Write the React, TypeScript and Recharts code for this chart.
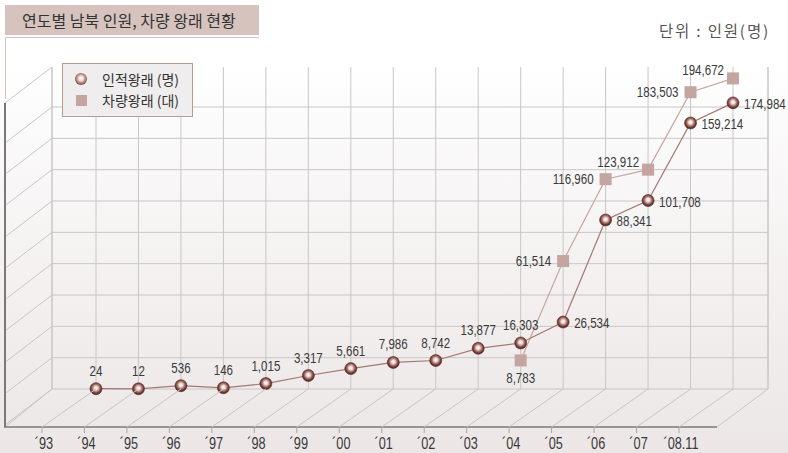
import { LineChart, Line, XAxis, YAxis, CartesianGrid, LabelList, Customized } from 'recharts'

const years = ['´93', '´94', '´95', '´96', '´97', '´98', '´99', '´00', '´01', '´02', '´03', '´04', '´05', '´06', '´07', '´08.11']
const people = [24, 12, 536, 146, 1015, 3317, 5661, 7986, 8742, 13877, 16303, 26534, 88341, 101708, 159214, 174984]
const vehicles = [null, null, null, null, null, null, null, null, null, null, 8783, 61514, 116960, 123912, 183503, 194672]

const data = years.map((year, i) => ({ year, people: people[i], vehicles: vehicles[i] }))

// chart frame (back wall of the pseudo 3d box)
const W = 788
const H = 453
const PLOT_LEFT = 52
const PLOT_RIGHT = 768
const PLOT_TOP = 67
const PLOT_BOTTOM = 389
const GRID_TOP = 107
const DEPTH_X = -54
const DEPTH_Y = 38
const WALL_FRONT_X = 5
const FLOOR_FRONT_RIGHT = 717

const GRID = '#c9c6c6'
const NUM_FONT = '"Liberation Sans", Arial, sans-serif'
const KR_FONT = '"Noto Sans CJK KR", "Noto Sans", sans-serif'

const gridYs = Array.from({ length: 10 }, (_, i) => PLOT_BOTTOM - (i * (PLOT_BOTTOM - GRID_TOP)) / 9)

// power scale, the original axis is compressed at the top
function powScale(exponent: number): any {
    let dom = [0, 1]
    let rng = [0, 1]
    const f = (v: number) => Math.sign(v) * Math.pow(Math.abs(v), exponent)
    const scale: any = (v: number) => {
        const t = (f(v) - f(dom[0])) / (f(dom[1]) - f(dom[0]))
        return rng[0] + t * (rng[1] - rng[0])
    }
    scale.domain = (d?: any[]) => {
        if (d === undefined) return dom.slice()
        dom = d.map(Number)
        return scale
    }
    scale.range = (r?: any[]) => {
        if (r === undefined) return rng.slice()
        rng = r.map(Number)
        return scale
    }
    scale.invert = (px: number) => {
        const t = (px - rng[0]) / (rng[1] - rng[0])
        const fv = f(dom[0]) + t * (f(dom[1]) - f(dom[0]))
        return Math.sign(fv) * Math.pow(Math.abs(fv), 1 / exponent)
    }
    scale.ticks = (n = 5) => {
        const step = (dom[1] - dom[0]) / n
        return Array.from({ length: n + 1 }, (_, i) => dom[0] + i * step)
    }
    scale.copy = () => powScale(exponent).domain(dom).range(rng)
    return scale
}

const yScale = powScale(0.77)

// condensed look: squeeze a regular sans horizontally
function NarrowText({ x, y, anchor, size, children }: any) {
    return (
        <text
            transform={`translate(${x},${y}) scale(0.77,1)`}
            textAnchor={anchor}
            dominantBaseline="central"
            fontFamily={NUM_FONT}
            fontSize={size}
            fill="#3a3a3a"
        >
            {children}
        </text>
    )
}

function Frame3D() {
    const wallYs = [PLOT_TOP, ...gridYs]
    return (
        <g>
            {wallYs.map((y) => (
                <line key={y} x1={PLOT_LEFT} y1={y} x2={WALL_FRONT_X} y2={y + DEPTH_Y - 2} stroke={GRID} />
            ))}
            <line x1={PLOT_LEFT} y1={PLOT_TOP} x2={PLOT_LEFT} y2={PLOT_BOTTOM} stroke={GRID} />
            <line x1={PLOT_RIGHT} y1={PLOT_TOP} x2={PLOT_RIGHT} y2={PLOT_BOTTOM} stroke={GRID} />
            <line x1={PLOT_LEFT} y1={PLOT_BOTTOM} x2={WALL_FRONT_X} y2={PLOT_BOTTOM + DEPTH_Y} stroke={GRID} />
            <line x1={PLOT_RIGHT} y1={PLOT_BOTTOM} x2={FLOOR_FRONT_RIGHT} y2={PLOT_BOTTOM + DEPTH_Y} stroke={GRID} />
            <line x1={WALL_FRONT_X} y1={PLOT_TOP + DEPTH_Y - 2} x2={WALL_FRONT_X} y2={PLOT_BOTTOM + DEPTH_Y} stroke="#7b7878" strokeWidth={2} />
            <line x1={WALL_FRONT_X - 1} y1={PLOT_BOTTOM + DEPTH_Y} x2={FLOOR_FRONT_RIGHT} y2={PLOT_BOTTOM + DEPTH_Y} stroke="#7b7878" strokeWidth={1.6} />
        </g>
    )
}

function FrontTick({ x, y, payload }: any) {
    const fx = x + DEPTH_X
    const fy = y + DEPTH_Y
    return (
        <g>
            <line x1={x} y1={y} x2={fx} y2={fy} stroke={GRID} />
            <line x1={fx} y1={fy} x2={fx} y2={fy + 6} stroke="#a9a5a5" />
            <NarrowText x={fx + 2} y={fy + 16} anchor="middle" size={16.5}>
                {payload.value}
            </NarrowText>
        </g>
    )
}

function PeopleLabel({ x, y, value, index }: any) {
    if (value == null) return null
    const text = Number(value).toLocaleString('en-US')
    if (index <= 10) {
        return (
            <NarrowText x={x} y={y - 18} anchor="middle" size={15}>
                {text}
            </NarrowText>
        )
    }
    return (
        <NarrowText x={x + 11} y={y + 1} anchor="start" size={15}>
            {text}
        </NarrowText>
    )
}

function VehicleLabel({ x, y, value, index }: any) {
    if (value == null) return null
    const text = Number(value).toLocaleString('en-US')
    if (index === 10) {
        return (
            <NarrowText x={x} y={y + 18} anchor="middle" size={15}>
                {text}
            </NarrowText>
        )
    }
    const above = index === 13 || index === 15
    return (
        <NarrowText x={x - (above ? 9 : 12)} y={y - (above ? 8 : 0)} anchor="end" size={15}>
            {text}
        </NarrowText>
    )
}

function SquareDot({ cx, cy, value }: any) {
    if (value == null || cx == null || cy == null) return null
    return <rect x={cx - 6} y={cy - 6} width={12} height={12} fill="#c4a59f" />
}

const ballCss = 'radial-gradient(circle at 50% 45%, #ffffff 0%, #f0e0dd 25%, #a56d67 58%, #6a3530 80%, #4f2421 100%)'

export default function App() {
    return (
        <div
            style={{
                position: 'absolute',
                left: 0,
                top: 0,
                width: W,
                height: H,
                overflow: 'hidden',
                background: 'linear-gradient(to bottom, #ffffff 0%, #ffffff 14%, #f5f2f2 55%, #ece7e6 100%)',
                fontFamily: KR_FONT,
            }}
        >
            <div
                style={{
                    position: 'absolute',
                    left: 5,
                    top: 5,
                    width: 254,
                    height: 30,
                    background: '#d6c3be',
                    color: '#333',
                    fontSize: 16,
                    lineHeight: '30px',
                    paddingLeft: 17,
                    boxSizing: 'border-box',
                }}
            >
                연도별 남북 인원, 차량 왕래 현황
            </div>
            <div
                style={{
                    position: 'absolute',
                    left: 5,
                    top: 37,
                    width: 254,
                    height: 62,
                    borderTop: '1px solid #d6c3be',
                    borderLeft: '1px solid #d6c3be',
                    boxSizing: 'border-box',
                }}
            />
            <div style={{ position: 'absolute', right: 18, top: 19, fontSize: 15.5, color: '#555', letterSpacing: 1.8 }}>
                단위 : 인원(명)
            </div>

            <LineChart
                width={W}
                height={H}
                data={data}
                margin={{ top: PLOT_TOP, right: W - PLOT_RIGHT, bottom: H - PLOT_BOTTOM - 30, left: PLOT_LEFT }}
            >
                <defs>
                    <radialGradient id="ball" cx="50%" cy="45%" r="55%">
                        <stop offset="0%" stopColor="#ffffff" />
                        <stop offset="25%" stopColor="#f0e0dd" />
                        <stop offset="58%" stopColor="#a56d67" />
                        <stop offset="80%" stopColor="#6a3530" />
                        <stop offset="100%" stopColor="#4f2421" />
                    </radialGradient>
                </defs>
                <Customized component={Frame3D} />
                <CartesianGrid stroke={GRID} horizontalPoints={gridYs} />
                <XAxis
                    dataKey="year"
                    interval={0}
                    padding={{ left: 44, right: 35 }}
                    axisLine={false}
                    tickLine={false}
                    tickSize={0}
                    tickMargin={0}
                    height={30}
                    tick={<FrontTick />}
                />
                <YAxis hide width={0} type="number" domain={[0, 204000]} scale={yScale} />
                <Line
                    dataKey="vehicles"
                    stroke="#c6a7a1"
                    strokeWidth={1.2}
                    dot={<SquareDot />}
                    activeDot={false}
                    isAnimationActive={false}
                >
                    <LabelList dataKey="vehicles" content={<VehicleLabel />} />
                </Line>
                <Line
                    dataKey="people"
                    stroke="#a47873"
                    strokeWidth={1.2}
                    dot={{ r: 6, fill: 'url(#ball)', stroke: '#5a2c28', strokeWidth: 0.6 }}
                    activeDot={false}
                    isAnimationActive={false}
                >
                    <LabelList dataKey="people" content={<PeopleLabel />} />
                </Line>
            </LineChart>

            <div
                style={{
                    position: 'absolute',
                    left: 62,
                    top: 63,
                    width: 131,
                    height: 54,
                    background: '#efeded',
                    border: '1px solid #b89a94',
                    boxSizing: 'border-box',
                    fontSize: 14,
                    color: '#333',
                }}
            >
                <div style={{ position: 'absolute', left: 12, top: 9, width: 12, height: 12, borderRadius: 6, background: ballCss }} />
                <div style={{ position: 'absolute', left: 39, top: 5, lineHeight: '20px', whiteSpace: 'nowrap' }}>인적왕래 (명)</div>
                <div style={{ position: 'absolute', left: 13, top: 31, width: 11, height: 11, background: '#c4a59f' }} />
                <div style={{ position: 'absolute', left: 39, top: 26, lineHeight: '20px', whiteSpace: 'nowrap' }}>차량왕래 (대)</div>
            </div>
        </div>
    )
}
